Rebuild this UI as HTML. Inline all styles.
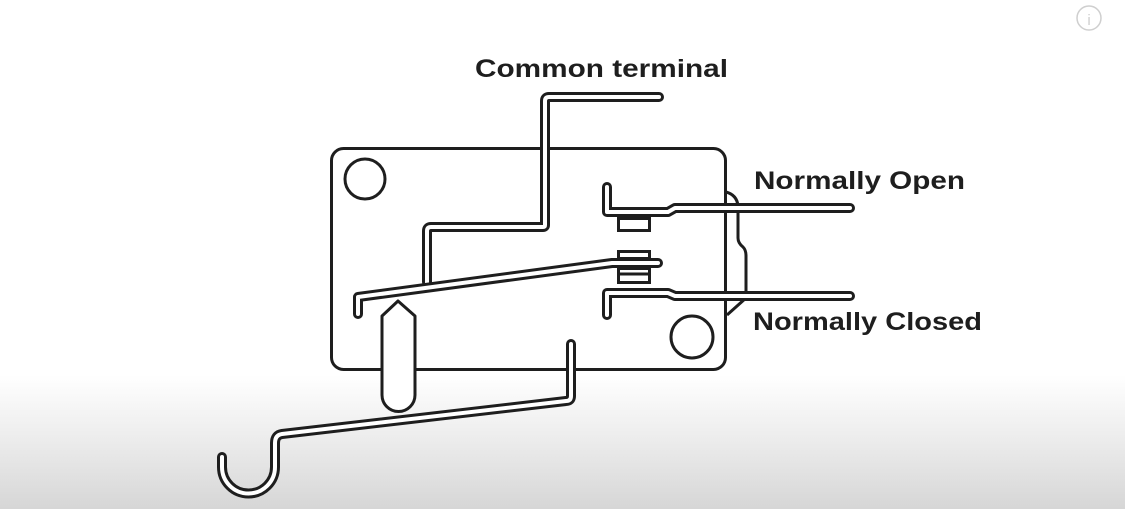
<!DOCTYPE html>
<html><head><meta charset="utf-8"><style>
html,body{margin:0;padding:0;width:1125px;height:509px;overflow:hidden;}
body{background:linear-gradient(to bottom,#fff 0px,#fff 375px,#ececec 440px,#d6d6d6 509px);}
svg{position:absolute;left:0;top:0}
text{font-family:"Liberation Sans",sans-serif;font-weight:bold;font-size:25px;fill:#1e1e1e}
</style></head><body>
<svg width="1125" height="509" viewBox="0 0 1125 509" xmlns="http://www.w3.org/2000/svg">
<circle cx="1089" cy="18" r="12" fill="none" stroke="#cfcfcf" stroke-width="1.5"/>
<text x="1089" y="25" text-anchor="middle" style="font-size:15px;font-weight:normal;fill:#cfcfcf">i</text>

<rect x="331.5" y="148.5" width="394" height="221" rx="12" fill="#fff" stroke="#1e1e1e" stroke-width="3"/>
<circle cx="365" cy="179" r="20" fill="none" stroke="#1e1e1e" stroke-width="3"/>
<circle cx="692" cy="337" r="21" fill="none" stroke="#1e1e1e" stroke-width="3"/>

<path d="M726,192 Q737,195 738,206 L738,238 Q738,243 743,247 Q746,250 746,256 L746,298 L727,315" fill="none" stroke="#1e1e1e" stroke-width="3" stroke-linejoin="round"/>

<g fill="none" stroke-linecap="round" stroke-linejoin="round">
<path d="M659,97 L549,97 Q545,97 545,101 L545,225 Q545,227 543,227 L431,227 Q427,227 427,231 L427,282" stroke="#1e1e1e" stroke-width="10"/>
<path d="M659,97 L549,97 Q545,97 545,101 L545,225 Q545,227 543,227 L431,227 Q427,227 427,231 L427,284" stroke="#fff" stroke-width="4"/>
<path d="M607,187 L607,212 L668,212 L675,208 L850,208" stroke="#1e1e1e" stroke-width="10"/>
<path d="M607,187 L607,212 L668,212 L675,208 L850,208" stroke="#fff" stroke-width="4"/>
<path d="M607,315 L607,293 L668,293 L675,296 L850,296" stroke="#1e1e1e" stroke-width="10"/>
<path d="M607,315 L607,293 L668,293 L675,296 L850,296" stroke="#fff" stroke-width="4"/>
<path d="M358,314 L358,297 L612,263 L658,263" stroke="#1e1e1e" stroke-width="10"/>
<path d="M358,314 L358,297 L612,263 L658,263" stroke="#fff" stroke-width="4"/>
<path d="M571,344 L571,396 Q571,401 566,401 L282,434 Q275,435 275,443 L275,467 A26.5,26.5 0 0 1 222,467 L222,457" stroke="#1e1e1e" stroke-width="10"/>
<path d="M571,344 L571,396 Q571,401 566,401 L282,434 Q275,435 275,443 L275,467 A26.5,26.5 0 0 1 222,467 L222,457" stroke="#fff" stroke-width="4"/>
</g>

<rect x="618.5" y="218.5" width="31" height="12" fill="#fff" stroke="#1e1e1e" stroke-width="3"/>
<rect x="618.5" y="251.5" width="31" height="7" fill="#fff" stroke="#1e1e1e" stroke-width="3"/>
<rect x="618.5" y="268.5" width="31" height="14" fill="#fff" stroke="#1e1e1e" stroke-width="3"/>
<line x1="618" y1="274" x2="650" y2="274" stroke="#1e1e1e" stroke-width="3"/>

<path d="M382,395 L382,316 L398,301 L415,316 L415,395 A16.5,16.5 0 0 1 382,395 Z" fill="#fff" stroke="#1e1e1e" stroke-width="3" stroke-linejoin="round"/>

<text x="475" y="77" textLength="253" lengthAdjust="spacingAndGlyphs">Common terminal</text>
<text x="754" y="189" textLength="211" lengthAdjust="spacingAndGlyphs">Normally Open</text>
<text x="753" y="330" textLength="229" lengthAdjust="spacingAndGlyphs">Normally Closed</text>
</svg>
</body></html>
